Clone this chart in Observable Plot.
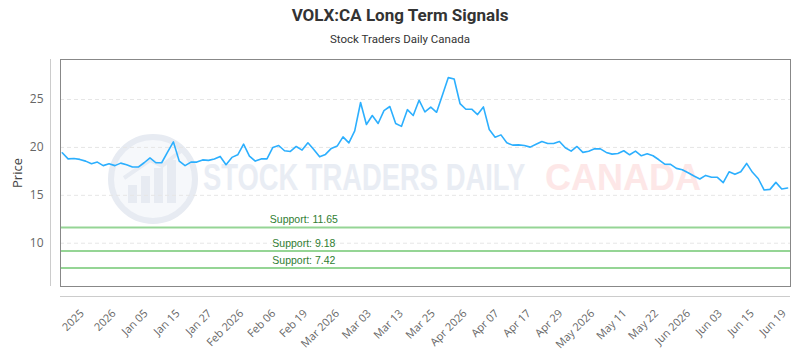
<!DOCTYPE html>
<html>
<head>
<meta charset="utf-8">
<script src="https://cdn.jsdelivr.net/npm/d3@7"></script>
<script src="https://cdn.jsdelivr.net/npm/@observablehq/plot@0.6"></script>
<style>
  html, body { margin: 0; padding: 0; background: #fff; }
  #page { position: relative; width: 800px; height: 350px; overflow: hidden; }
  #header { position: relative; height: 50px; text-align: center; z-index: 2; }
  #title { position: absolute; left: 0; right: 0; top: 5px; font-family: "Liberation Sans Narrow", "Roboto", sans-serif; font-weight: bold; font-size: 17px; color: #333; }
  #subtitle { position: absolute; left: 0; right: 0; top: 32px; font-family: "Liberation Sans Narrow", "Roboto", sans-serif; font-size: 11.5px; color: #333; }
  #watermark { position: absolute; left: 0; top: 0; width: 800px; height: 350px; z-index: 0; pointer-events: none; }
  #wm-stock { position: absolute; left: 203px; top: 158px; font-family: "Liberation Sans", sans-serif; font-weight: bold; font-size: 36px; line-height: 40px; color: #e9edf4; transform: scaleX(0.76); transform-origin: left top; white-space: nowrap; }
  #wm-canada { position: absolute; left: 545px; top: 158px; font-family: "Liberation Sans", sans-serif; font-weight: bold; font-size: 36px; line-height: 40px; color: #fde7e7; white-space: nowrap; }
  #chart { position: relative; z-index: 1; }
</style>
</head>
<body>
<div id="page">
  <div id="watermark">
    <svg width="800" height="350" style="position:absolute;left:0;top:0">
      <circle cx="153" cy="179" r="42" fill="#f6f8fb" stroke="#e7ebf2" stroke-width="6"></circle>
      <rect x="128" y="185" width="9" height="18" fill="#e7ebf2"></rect>
      <rect x="141" y="176" width="9" height="27" fill="#e7ebf2"></rect>
      <rect x="154" y="168" width="9" height="35" fill="#e7ebf2"></rect>
      <rect x="167" y="160" width="9" height="43" fill="#e7ebf2"></rect>
      <path d="M124 178 L150 160 L162 166 L182 150" fill="none" stroke="#e7ebf2" stroke-width="4"></path>
    </svg>
    <div id="wm-stock">STOCK TRADERS DAILY</div>
    <div id="wm-canada">CANADA</div>
  </div>
  <div id="header">
    <div id="title">VOLX:CA Long Term Signals</div>
    <div id="subtitle">Stock Traders Daily Canada</div>
  </div>
  <div id="chart"></div>
</div>
<script>
// Daily closing prices, oldest first
const prices = [
  19.44, 18.80, 18.85, 18.75, 18.57, 18.30, 18.47, 18.10, 18.30, 18.10,
  18.36, 18.20, 17.95, 17.95, 18.40, 18.90, 18.40, 18.40, 19.50, 20.58,
  18.57, 18.10, 18.47, 18.47, 18.70, 18.65, 18.80, 19.06, 18.20, 18.96,
  19.23, 20.34, 19.10, 18.57, 18.80, 18.80, 20.00, 20.20, 19.65, 19.58,
  20.10, 19.72, 20.48, 19.79, 19.02, 19.27, 19.90, 20.14, 21.10, 20.48,
  21.73, 24.69, 22.40, 23.33, 22.50, 23.85, 24.27, 22.50, 22.20, 23.94,
  23.33, 24.93, 23.70, 24.20, 23.67, 25.48, 27.29, 27.15, 24.58, 23.99,
  23.99, 23.43, 24.23, 21.87, 21.07, 21.31, 20.48, 20.24, 20.27, 20.20,
  20.03, 20.34, 20.62, 20.41, 20.41, 20.62, 19.96, 19.61, 20.10, 19.48,
  19.61, 19.85, 19.85, 19.48, 19.30, 19.37, 19.65, 19.23, 19.61, 19.13,
  19.33, 19.13, 18.71, 18.26, 18.23, 17.81, 17.67, 17.36, 17.01, 16.70,
  17.08, 16.88, 16.88, 16.32, 17.46, 17.19, 17.46, 18.33, 17.40, 16.73,
  15.55, 15.62, 16.35, 15.66, 15.76
];

// Date labels along the bottom axis
const tickLabels = [
  "2025", "2026", "Jan 05", "Jan 15", "Jan 27", "Feb 2026", "Feb 06", "Feb 19",
  "Mar 2026", "Mar 03", "Mar 13", "Mar 25", "Apr 2026", "Apr 07", "Apr 17",
  "Apr 29", "May 2026", "May 11", "May 22", "Jun 2026", "Jun 03", "Jun 15", "Jun 19"
];

// Long-term support levels
const supportLevels = [11.65, 9.18, 7.42];

const yTicks = [10, 15, 20, 25];

const xDomain = [-0.3, 124.5];
const yDomain = [5.48, 29.18];

// evenly spaced label positions across the trading days
const tickStep = 5.455;
const tickPositions = tickLabels.map((_, k) => 3.4 + k * tickStep);

// support labels sit a third of the way across the plot
const supportLabelX = xDomain[0] + (xDomain[1] - xDomain[0]) / 3;

const series = prices.map((p, i) => ({i, p}));

const chart = Plot.plot({
  width: 800,
  height: 300,
  marginTop: 9,
  marginLeft: 60,
  marginRight: 10,
  marginBottom: 64,
  style: {fontFamily: "'Open Sans', sans-serif", fontSize: "11px", color: "#666", background: "transparent"},
  x: {domain: xDomain},
  y: {domain: yDomain},
  marks: [
    Plot.gridY(yTicks, {stroke: "#e6e6e6", strokeOpacity: 1, strokeDasharray: "4,3"}),
    Plot.ruleY(supportLevels, {stroke: "#95d595", strokeWidth: 2}),
    Plot.text(supportLevels, {
      x: () => supportLabelX, y: d => d, text: d => `Support: ${d}`,
      fill: "#2f7d32", lineAnchor: "bottom", dy: -4, fontSize: 10.5,
      fontFamily: "'Liberation Sans', sans-serif"
    }),
    Plot.line(series, {x: "i", y: "p", stroke: "#2caffe", strokeWidth: 1.6}),
    Plot.frame({stroke: "#888"}),
    Plot.ruleX([xDomain[0]], {dx: -10, stroke: "#ccc"}),
    Plot.ruleY([yDomain[0]], {dy: 10, stroke: "#ccc"}),
    Plot.axisY(yTicks, {
      tickSize: 0, tickPadding: 17, fontSize: 12,
      label: "Price", labelAnchor: "center", labelArrow: "none", labelOffset: 48
    }),
    Plot.axisX(tickPositions, {
      tickFormat: (d, i) => tickLabels[i], tickRotate: -45, tickSize: 0, tickPadding: 25, label: null
    })
  ]
});

d3.select(chart).selectAll("[aria-label='y-axis label'] text").attr("fill", "#444").style("font-size", "13px");
document.getElementById("chart").appendChild(chart);
</script>
</body>
</html>
